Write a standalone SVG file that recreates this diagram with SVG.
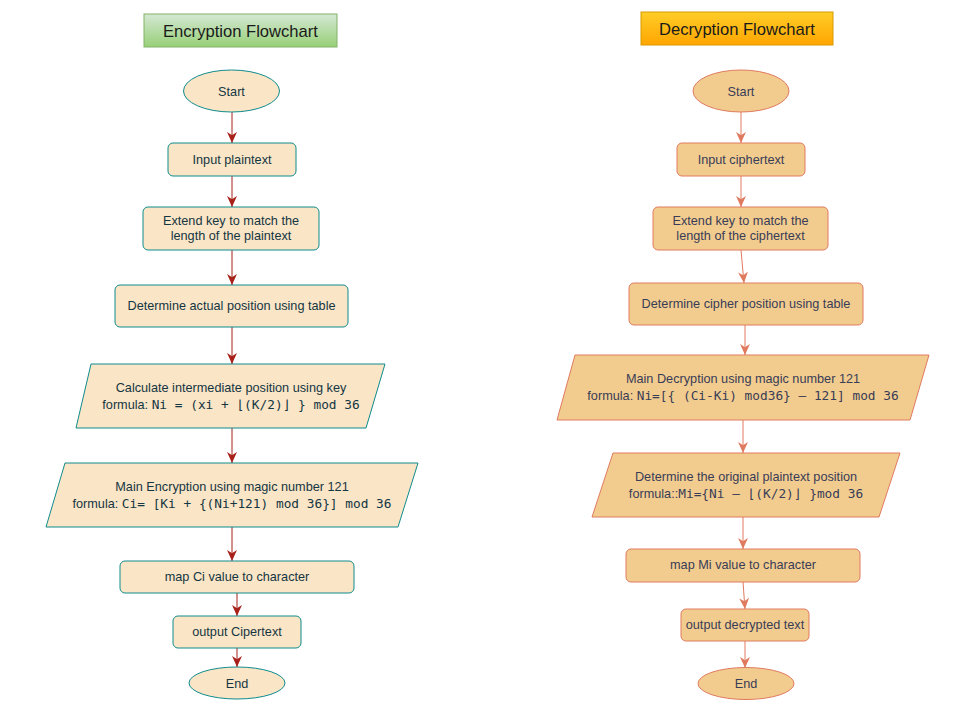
<svg xmlns="http://www.w3.org/2000/svg" width="967" height="713" viewBox="0 0 967 713">
<defs>
<linearGradient id="gGreen" x1="0" y1="0" x2="0" y2="1"><stop offset="0" stop-color="#d5e8d4"/><stop offset="1" stop-color="#97d077"/></linearGradient>
<linearGradient id="gOrange" x1="0" y1="0" x2="0" y2="1"><stop offset="0" stop-color="#ffcd28"/><stop offset="1" stop-color="#ffa500"/></linearGradient>
<marker id="arL" viewBox="0 0 10 10" refX="10" refY="5" markerWidth="11" markerHeight="11" markerUnits="userSpaceOnUse" orient="auto"><path d="M0,0.5 L10,5 L0,9.5 L3,5 Z" fill="#A8201A"/></marker>
<marker id="arR" viewBox="0 0 10 10" refX="10" refY="5" markerWidth="11" markerHeight="11" markerUnits="userSpaceOnUse" orient="auto"><path d="M0,0.5 L10,5 L0,9.5 L3,5 Z" fill="#E07A5F"/></marker>
<style>
text{font-family:"Liberation Sans",Arial,sans-serif;font-size:12.7px;text-anchor:middle}
.m{font-family:"DejaVu Sans Mono","Liberation Mono",monospace;font-size:12.8px}
.enc{fill:#FAE5C7;stroke:#0F8B8D;stroke-width:1}
.dec{fill:#F2CC8F;stroke:#E07A5F;stroke-width:1}
.te{fill:#143642}
.td{fill:#393C56}
.cl{stroke:#A8201A;stroke-width:1;fill:none;marker-end:url(#arL)}
.cr{stroke:#E07A5F;stroke-width:1;fill:none;marker-end:url(#arR)}
.title{font-size:16.6px;fill:#1a1a1a}
</style>
</defs>
<rect width="967" height="713" fill="#ffffff"/>

<g id="title-enc"><rect x="144" y="14" width="193" height="33" fill="url(#gGreen)" stroke="#82b366"/><text class="title" x="240.5" y="37">Encryption Flowchart</text></g>
<g id="title-dec"><rect x="641" y="12" width="192" height="33" fill="url(#gOrange)" stroke="#d79b00"/><text class="title" x="737" y="35">Decryption Flowchart</text></g>

<g id="connectors">
<line class="cl" x1="232" y1="112" x2="232" y2="143"/>
<line class="cl" x1="232" y1="176" x2="232" y2="207"/>
<line class="cl" x1="232" y1="250" x2="232" y2="285"/>
<line class="cl" x1="232" y1="327" x2="232" y2="364"/>
<line class="cl" x1="232" y1="428" x2="232" y2="463"/>
<line class="cl" x1="232" y1="527" x2="232" y2="561"/>
<line class="cl" x1="237" y1="593" x2="237" y2="616"/>
<line class="cl" x1="237" y1="648" x2="237" y2="667"/>
<line class="cr" x1="741" y1="112" x2="741" y2="143"/>
<line class="cr" x1="741" y1="176" x2="741" y2="207"/>
<line class="cr" x1="741" y1="250" x2="744" y2="283"/>
<line class="cr" x1="745" y1="325" x2="745" y2="355"/>
<line class="cr" x1="743" y1="420" x2="743" y2="453"/>
<line class="cr" x1="743" y1="517" x2="743" y2="549"/>
<line class="cr" x1="743" y1="582" x2="745" y2="609"/>
<line class="cr" x1="745" y1="641" x2="745" y2="668"/>
</g>

<g id="e-start"><ellipse class="enc" cx="231.5" cy="91" rx="48" ry="21"/><text class="te" x="231.5" y="95.5">Start</text></g>
<g id="e-input"><rect class="enc" x="168" y="143" width="128" height="33" rx="5"/><text class="te" x="232" y="164">Input plaintext</text></g>
<g id="e-extend"><rect class="enc" x="143" y="207" width="176" height="43" rx="5"/><text class="te" x="231" y="225">Extend key to match the</text><text class="te" x="231" y="240">length of the plaintext</text></g>
<g id="e-determine"><rect class="enc" x="115" y="285" width="233" height="42" rx="5"/><text class="te" x="231.5" y="310">Determine actual position using table</text></g>
<g id="e-calc"><polygon class="enc" points="91,364 385,364 366,428 76,428"/><text class="te" x="231" y="392">Calculate intermediate position using key</text><text class="te" x="231" y="409">formula: <tspan class="m">Ni = (xi + ⌊(K/2)⌋ } mod 36</tspan></text></g>
<g id="e-main"><polygon class="enc" points="65,463 418,463 398,527 46,527"/><text class="te" x="232" y="491">Main Encryption using magic number 121</text><text class="te" x="232" y="508">formula: <tspan class="m">Ci= [Ki + {(Ni+121) mod 36}] mod 36</tspan></text></g>
<g id="e-map"><rect class="enc" x="120" y="561" width="234" height="32" rx="5"/><text class="te" x="237" y="581">map Ci value to character</text></g>
<g id="e-output"><rect class="enc" x="173" y="616" width="128" height="32" rx="5"/><text class="te" x="237" y="636">output Cipertext</text></g>
<g id="e-end"><ellipse class="enc" cx="237" cy="683" rx="48" ry="16"/><text class="te" x="237" y="687.5">End</text></g>

<g id="d-start"><ellipse class="dec" cx="741" cy="91" rx="48" ry="21"/><text class="td" x="741" y="95.5">Start</text></g>
<g id="d-input"><rect class="dec" x="677" y="143" width="128" height="33" rx="5"/><text class="td" x="741" y="164">Input ciphertext</text></g>
<g id="d-extend"><rect class="dec" x="653" y="207" width="175" height="43" rx="5"/><text class="td" x="740.5" y="225">Extend key to match the</text><text class="td" x="740.5" y="240">length of the ciphertext</text></g>
<g id="d-determine"><rect class="dec" x="629" y="283" width="234" height="42" rx="5"/><text class="td" x="746" y="308">Determine cipher position using table</text></g>
<g id="d-main"><polygon class="dec" points="575,355 929,355 910,420 557,420"/><text class="td" x="743" y="383">Main Decryption using magic number 121</text><text class="td" x="743" y="400">formula: <tspan class="m">Ni=[{ (Ci-Ki) mod36} – 121] mod 36</tspan></text></g>
<g id="d-orig"><polygon class="dec" points="613,453 900,453 879,517 592,517"/><text class="td" x="746" y="481">Determine the original plaintext position</text><text class="td" x="746" y="498">formula::<tspan class="m">Mi={Ni – ⌊(K/2)⌋ }mod 36</tspan></text></g>
<g id="d-map"><rect class="dec" x="626" y="549" width="234" height="33" rx="5"/><text class="td" x="743" y="569">map Mi value to character</text></g>
<g id="d-output"><rect class="dec" x="681" y="609" width="128" height="32" rx="5"/><text class="td" x="745" y="629">output decrypted text</text></g>
<g id="d-end"><ellipse class="dec" cx="746" cy="683.5" rx="48" ry="16"/><text class="td" x="746" y="688">End</text></g>
</svg>
